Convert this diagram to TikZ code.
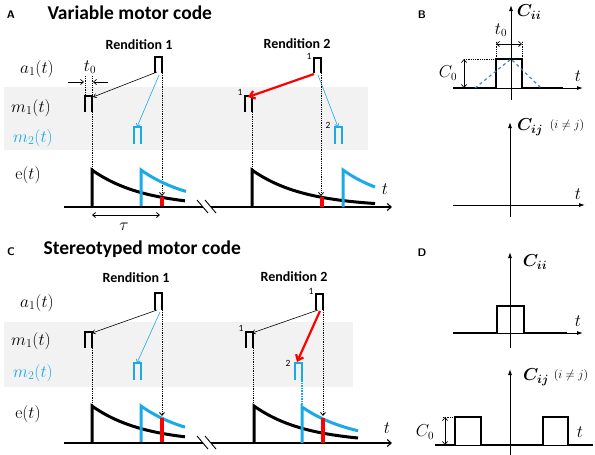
\documentclass[tikz,border=0pt]{standalone}
\usepackage{amsmath}
\usepackage{bm}
\usepackage{fontspec}
\newfontfamily\carl{Carlito}
\usetikzlibrary{arrows.meta,calc}
\definecolor{bandgray}{HTML}{F2F2F2}
\definecolor{sky}{HTML}{1AABE6}
\definecolor{dashblue}{HTML}{4F81BD}
\definecolor{rd}{HTML}{FF0000}
\newcommand\pls[4][black]{\draw[pulse,#1] (#2,#4) -- (#2,#3) -- ($(#2,#3)+(7,0)$) -- ($(#2,#4)+(7,0)$);}
\begin{document}
\begin{tikzpicture}[x=1pt,y=-1pt,
  pulse/.style={line width=1.7pt},
  trace/.style={line width=3pt},
  redbar/.style={line width=3.5pt,rd},
  thinarr/.style={line width=0.6pt,-{Straight Barb[length=3pt,width=4.5pt]}},
  redarr/.style={line width=2.2pt,rd,-{Straight Barb[length=5pt,width=8pt]}},
  dotarr/.style={line width=0.8pt,densely dotted,-{Straight Barb[length=3pt,width=5pt]}},
  dotl/.style={line width=0.8pt,densely dotted},
  baseln/.style={line width=1.1pt},
  axarr/.style={line width=0.9pt,-{Latex[length=6pt,width=4pt]}},
  thickc/.style={line width=2.6pt},
  lab/.style={font=\fontsize{17.5}{20}\selectfont},
  ttl/.style={anchor=west,font=\carl\bfseries\fontsize{19.5}{22}\selectfont},
  rend/.style={font=\carl\bfseries\fontsize{14}{16}\selectfont},
  letter/.style={font=\sffamily\bfseries\fontsize{11}{13}\selectfont},
  sm/.style={font=\carl\fontsize{9.5}{10}\selectfont,inner sep=1pt},
  clab/.style={font=\fontsize{17}{20}\selectfont},
  tl/.style={font=\fontsize{16}{18}\selectfont}
]
\useasboundingbox (0,0) rectangle (595,455);
\fill[bandgray] (4,87) rectangle (368,150);
\fill[bandgray] (4,322) rectangle (353,387);

% ================= Panel A =================
\node[letter] (letA) at (11,15) {A};
\node[ttl] (ttlA) at (44,13) {Variable motor code};
\node[rend] (r1A) at (139,45) {Rendition 1};
\node[rend] (r2A) at (297,44) {Rendition 2};
\node[lab] (a1A) at (37,69) {$a_1(t)$};
\node[lab] (m1A) at (31,108) {$m_1(t)$};
\node[lab,sky] (m2A) at (33,138) {$m_2(t)$};
\node[lab] (eA) at (28,175) {$\mathrm{e}(t)$};

% Rendition 1 pulses
\pls{155}{57}{73}
\pls{85}{96}{112}
\pls[sky]{134}{127}{144}
\coordinate (pA1a) at (157,72);
\coordinate (pA1m) at (93,97);
\coordinate (pA1b) at (159,75);
\coordinate (pA1c) at (137,127);
\draw[dotl] (85,76) -- (85,96);
\draw[dotl] (92,76) -- (92,96);
\coordinate (t0l) at (68,82); \coordinate (t0lt) at (84,82);
\coordinate (t0r) at (108,82); \coordinate (t0rt) at (93,82);
\draw[line width=0.7pt,-{Straight Barb[length=3pt,width=5pt]}] (t0l) -- (t0lt);
\draw[line width=0.7pt,-{Straight Barb[length=3pt,width=5pt]}] (t0r) -- (t0rt);
\node[tl] (t0A) at (90,67) {$t_0$};
\draw[thinarr] (pA1a) -- (pA1m);
\draw[thinarr,sky] (pA1b) -- (pA1c);
\draw[dotarr] (162,73) -- (162,196);
\draw[dotl] (92,112) -- (92,170);
% e(t) R1
\draw[trace] (92,207) -- (92,170) -- plot[domain=0:93,samples=40] ({92+\x},{207-37*exp(-\x/52)});
\draw[trace,sky] (141,207) -- (141,170) -- plot[domain=0:45,samples=30] ({141+\x},{207-37*exp(-\x/52)});
\draw[redbar] (162,197) -- (162,207);
% baseline
\draw[baseln] (64,207) -- (203,207);
\draw[baseln,-{Straight Barb[length=4pt,width=7pt]}] (211,207) -- (392,207);
\draw[line width=0.9pt] (197,200) -- (208,213);
\draw[line width=0.9pt] (205,200) -- (216,213);
\draw[line width=0.8pt,{Straight Barb[length=3pt,width=5pt]}-{Straight Barb[length=3pt,width=5pt]}] (92,215) -- (160,215);
\node[tl] (tauA) at (124,227) {$\tau$};

% Rendition 2
\pls{314}{58}{73}
\pls{245}{96}{112}
\pls[sky]{335}{127}{144}
\node[sm] (n1a) at (309,56) {1};
\node[sm] (n1b) at (240,92) {1};
\node[sm] (n2a) at (328,125) {2};
\coordinate (pA2a) at (314,74);
\coordinate (pA2m) at (248,97);
\coordinate (pA2b) at (318,75);
\coordinate (pA2c) at (338,127);
\draw[redarr] (pA2a) -- (pA2m);
\draw[thinarr,sky] (pA2b) -- (pA2c);
\draw[dotarr] (321,73) -- (321,196);
\draw[dotl] (252,112) -- (252,169);
\draw[trace] (252,207) -- (252,170) -- plot[domain=0:123,samples=50] ({252+\x},{207-37*exp(-\x/52)});
\draw[trace,sky] (343,207) -- (343,170) -- plot[domain=0:32,samples=20] ({343+\x},{207-37*exp(-\x/52)});
\draw[redbar] (322,197) -- (322,207);
\node[tl] (tA) at (385,189) {$t$};

% ================= Panel B =================
\node[letter] (letB) at (422,15) {B};
\draw[axarr] (511,100) -- (511,5);
\draw[axarr] (453,88) -- (583,88);
\draw[thickc] (453,88) -- (496,88) -- (496,59) -- (522,59) -- (522,88) -- (563,88);
\draw[dashblue,dashed,line width=1.2pt] (475,88) -- (511,59) -- (541,88);
\draw[dotl,line width=0.6pt] (496,59) -- (496,41);
\draw[dotl,line width=0.6pt] (522,59) -- (522,41);
\draw[line width=0.7pt,{Straight Barb[length=3pt,width=5pt]}-{Straight Barb[length=3pt,width=5pt]}] (496,44) -- (522,44);
\node[tl] (t0B) at (501,30) {$t_0$};
\draw[dotl,line width=0.6pt] (464,59) -- (496,59);
\draw[line width=0.7pt,{Straight Barb[length=3pt,width=5pt]}-{Straight Barb[length=3pt,width=5pt]}] (464,59) -- (464,88);
\node[tl] (C0B) at (448,73) {$C_0$};
\node[clab] (CiiB) at (529,12) {$\bm{C_{ii}}$};
\node[tl] (tB) at (578,76) {$t$};
\draw[axarr] (510,217) -- (510,122);
\draw[axarr] (453,205) -- (585,205);
\node[clab] (CijB) at (530,127) {$\bm{C_{ij}}$};
\node[font=\fontsize{11.5}{13}\selectfont] (neqB) at (567,125) {$(i\neq j)$};
\node[tl] (tB2) at (578,194) {$t$};

% ================= Panel C =================
\node[letter] (letC) at (11,252) {C};
\node[ttl] (ttlC) at (40,249) {Stereotyped motor code};
\node[rend] (r1C) at (136,278) {Rendition 1};
\node[rend] (r2C) at (294,277) {Rendition 2};
\node[lab] (a1C) at (37,303) {$a_1(t)$};
\node[lab] (m1C) at (31,341) {$m_1(t)$};
\node[lab,sky] (m2C) at (33,373) {$m_2(t)$};
\node[lab] (eC) at (28,414) {$\mathrm{e}(t)$};

\pls{155}{293}{310}
\pls{85}{332}{348}
\pls[sky]{134}{363}{380}
\coordinate (pC1a) at (157,310);
\coordinate (pC1m) at (92,333);
\coordinate (pC1b) at (160,312);
\coordinate (pC1c) at (137,363);
\draw[thinarr] (pC1a) -- (pC1m);
\draw[thinarr,sky] (pC1b) -- (pC1c);
\draw[dotarr] (162,310) -- (162,416);
\draw[dotl] (92,348) -- (92,405);
\draw[trace] (92,443) -- (92,406) -- plot[domain=0:93,samples=40] ({92+\x},{443-37*exp(-\x/52)});
\draw[trace,sky] (141,443) -- (141,406) -- plot[domain=0:44,samples=30] ({141+\x},{443-37*exp(-\x/52)});
\draw[redbar] (162,418) -- (162,443);
\draw[baseln] (64,443) -- (203,443);
\draw[baseln,-{Straight Barb[length=4pt,width=7pt]}] (211,443) -- (392,443);
\draw[line width=0.9pt] (197,436) -- (208,449);
\draw[line width=0.9pt] (205,436) -- (216,449);

\pls{316}{294}{310}
\pls{246}{332}{348}
\pls[sky]{295}{363}{380}
\node[sm] (n1c) at (311,291) {1};
\node[sm] (n1d) at (241,328) {1};
\node[sm] (n2b) at (288,363) {2};
\coordinate (pC2a) at (318,310);
\coordinate (pC2m) at (252,333);
\coordinate (pC2b) at (320,311);
\coordinate (pC2c) at (297,362);
\draw[thinarr] (pC2a) -- (pC2m);
\draw[redarr] (pC2b) -- (pC2c);
\draw[dotarr] (323,310) -- (323,416);
\draw[dotl] (253,348) -- (253,405);
\draw[sky,line width=1.6pt,densely dotted] (302,380) -- (302,405);
\draw[trace] (254,443) -- (254,406) -- plot[domain=0:104,samples=40] ({254+\x},{443-37*exp(-\x/52)});
\draw[trace,sky] (302,443) -- (302,407) -- plot[domain=0:56,samples=30] ({302+\x},{443-36*exp(-\x/52)});
\draw[redbar] (323,418) -- (323,443);
\node[tl] (tC) at (387,428) {$t$};

% ================= Panel D =================
\node[letter] (letD) at (422,253) {D};
\draw[axarr] (510,348) -- (510,252);
\draw[axarr] (453,333) -- (583,333);
\draw[thickc] (453,333) -- (497,333) -- (497,306) -- (524,306) -- (524,333) -- (567,333);
\node[clab] (CiiD) at (535,262) {$\bm{C_{ii}}$};
\node[tl] (tD) at (578,321) {$t$};
\draw[line width=0.9pt] (510,455) -- (510,380);
\draw[axarr] (510,380) -- (510,369);
\draw[line width=0.9pt] (435,445) -- (585,445);
\draw[thickc] (435,445) -- (455,445) -- (455,417) -- (481,417) -- (481,445) -- (543,445) -- (543,417) -- (568,417) -- (568,445) -- (593,445);
\draw[dotl,line width=0.6pt] (443,417) -- (455,417);
\draw[line width=0.7pt,{Straight Barb[length=3pt,width=5pt]}-{Straight Barb[length=3pt,width=5pt]}] (445,417) -- (445,445);
\node[tl] (C0D) at (425,432) {$C_0$};
\node[clab] (CijD) at (536,377) {$\bm{C_{ij}}$};
\node[font=\fontsize{11.5}{13}\selectfont] (neqD) at (571,375) {$(i\neq j)$};
\node[tl] (tD2) at (580,432) {$t$};
\end{tikzpicture}
\end{document}
